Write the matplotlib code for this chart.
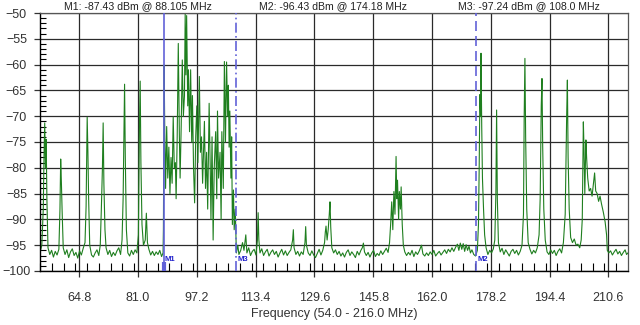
import matplotlib
matplotlib.use("Agg")
import matplotlib.pyplot as plt
import numpy as np

plt.rcParams['font.family'] = ['Liberation Sans', 'DejaVu Sans']

# spectrum trace, split by band (MHz, dBm)
low_f = [54.0, 54.5, 54.9, 55.1, 55.3, 55.5, 55.7, 55.9, 56.2, 56.7, 57.2, 57.7, 58.2, 58.7,
         59.2, 59.5, 59.7, 59.9, 60.1, 60.4, 60.9, 61.4, 61.9, 62.4, 62.9, 63.4, 63.9, 64.4,
         64.9, 65.4, 65.9, 66.4, 66.7, 66.9, 67.0, 67.2, 67.4, 67.7, 68.2, 68.7, 69.2, 69.7,
         70.2, 70.6, 70.9, 71.2, 71.4, 71.6, 71.9, 72.2, 72.7, 73.2, 73.7, 74.2, 74.7, 75.2,
         75.7, 76.2, 76.6, 76.9, 77.1, 77.3, 77.5, 77.8, 78.2, 78.7, 79.2, 79.7, 80.2, 80.7,
         81.1, 81.4, 81.6, 81.8, 82.1, 82.5, 83.0, 83.3, 83.6, 84.0, 84.5, 85.0, 85.5, 86.0,
         86.5, 87.0, 87.5, 87.9]
low_db = [-96.5, -95.0, -88.0, -78.0, -71.3, -80.0, -74.5, -86.0, -95.5, -96.8, -96.0, -97.3, -96.2, -96.9,
          -95.8, -88.0, -78.3, -83.0, -88.5, -95.5, -96.8, -95.9, -97.4, -96.3, -95.7, -97.0, -96.4, -97.5,
          -96.1, -96.9, -95.6, -94.5, -87.5, -75.0, -70.2, -77.0, -86.0, -95.0, -96.9, -97.3, -96.5, -95.9,
          -97.0, -95.0, -88.0, -80.0, -71.3, -83.0, -92.0, -95.5, -96.8, -96.0, -97.2, -96.4, -97.0, -96.1,
          -95.5, -96.8, -94.0, -86.0, -75.0, -63.8, -78.0, -92.0, -96.5, -97.1, -96.0, -96.8, -95.9, -96.5,
          -93.0, -72.0, -63.2, -79.0, -91.0, -95.0, -94.0, -88.8, -94.5, -95.8, -96.9, -96.2, -97.0, -96.3,
          -96.8, -96.0, -97.2, -96.5]

fm_f = [88.0, 88.2, 88.4, 88.6, 88.9, 89.2, 89.5, 89.8, 90.1, 90.4, 90.7, 91.0, 91.3, 91.5,
        91.8, 92.1, 92.4, 92.6, 92.9, 93.2, 93.5, 93.8, 94.0, 94.2, 94.4, 94.7, 94.9, 95.2,
        95.5, 95.8, 96.0, 96.3, 96.6, 96.9, 97.2, 97.5, 97.9, 98.2, 98.5, 98.8, 99.1, 99.3,
        99.6, 99.9, 100.2, 100.6, 100.9, 101.1, 101.4, 101.7, 102.0, 102.4, 102.7, 102.9, 103.2, 103.6,
        103.9, 104.1, 104.5, 104.8, 105.1, 105.4, 105.7, 105.9, 106.1, 106.3, 106.6, 106.8, 107.0, 107.3,
        107.5, 107.8]
fm_db = [-92.0, -60.1, -75.0, -84.0, -72.0, -82.0, -76.0, -85.0, -78.0, -83.0, -70.1, -80.0, -79.0, -86.0,
         -74.0, -55.9, -74.0, -82.0, -72.0, -59.1, -70.0, -66.0, -50.2, -62.0, -50.5, -68.0, -61.0, -73.0,
         -61.0, -75.0, -66.0, -80.0, -86.8, -74.0, -68.0, -79.0, -62.3, -77.0, -74.0, -83.0, -76.0, -71.0,
         -84.0, -77.0, -88.0, -67.5, -80.0, -90.0, -74.0, -94.0, -80.0, -73.0, -86.0, -69.0, -82.0, -77.0,
         -90.0, -73.0, -84.0, -59.4, -75.0, -59.5, -70.0, -64.0, -76.0, -69.0, -82.0, -74.0, -91.0, -84.3,
         -92.0, -88.0]

mid_f = [108.1, 108.5, 108.8, 109.3, 109.8, 110.2, 110.7, 111.0, 111.5, 112.0, 112.5, 113.0, 113.5, 113.9,
         114.1, 114.3, 114.6, 115.1, 115.6, 116.1, 116.6, 117.1, 117.6, 118.1, 118.6, 119.1, 119.6, 120.1,
         120.6, 121.1, 121.6, 122.1, 122.6, 123.1, 123.6, 123.8, 124.0, 124.5, 125.0, 125.5, 126.0, 126.5,
         127.0, 127.2, 127.4, 127.9, 128.4, 128.9, 129.4, 129.9, 130.4, 130.9, 131.4, 131.9, 132.4, 132.6,
         132.8, 133.1, 133.4, 133.7, 133.9, 134.1, 134.4, 134.9, 135.4, 135.9, 136.4, 136.9, 137.4, 137.9,
         138.4, 138.9, 139.4, 139.9, 140.4, 140.9, 141.4, 141.9, 142.4, 142.8, 143.1, 143.4, 143.9, 144.4,
         144.9, 145.4, 145.9, 146.4, 146.9, 147.4, 147.9, 148.4, 148.9, 149.4, 149.9, 150.3, 150.6, 150.9,
         151.2, 151.5, 151.8, 152.1, 152.3, 152.5, 152.8, 153.0, 153.3, 153.5, 153.8, 154.1, 154.5, 155.0,
         155.5, 156.0, 156.5, 157.0, 157.5, 158.0, 158.5, 159.1, 159.5, 160.0, 160.5, 161.0, 161.5, 162.0,
         162.5, 163.0, 163.5, 164.0, 164.5, 165.0, 165.5, 166.0, 166.5, 167.0, 167.5, 168.0, 168.5, 169.0,
         169.4, 169.8, 170.2, 170.6, 171.0, 171.4, 171.8, 172.2, 172.6, 173.0, 173.5, 174.0]
mid_db = [-96.5, -95.0, -96.8, -96.0, -94.5, -96.0, -93.0, -96.5, -95.5, -97.0, -96.2, -95.8, -96.9, -94.0,
          -88.7, -94.0, -96.5, -95.7, -97.0, -96.3, -95.8, -97.1, -96.4, -95.9, -96.8, -96.2, -97.3, -96.5,
          -95.8, -96.9, -96.1, -97.0, -96.4, -95.9, -94.0, -92.0, -95.5, -96.8, -96.2, -97.1, -96.3, -96.8,
          -94.5, -91.4, -95.0, -96.5, -97.0, -96.1, -96.9, -97.4, -96.6, -95.8, -96.9, -96.0, -94.5, -92.5,
          -91.3, -94.0, -92.0, -89.0, -86.6, -91.5, -95.5, -96.5, -95.9, -96.8, -96.2, -97.1, -96.5, -97.3,
          -96.4, -95.9, -97.0, -96.3, -96.8, -97.4, -96.2, -96.9, -96.0, -95.5, -94.6, -96.3, -97.0, -96.4,
          -97.3, -96.5, -96.0, -97.2, -96.6, -97.0, -96.1, -96.8, -96.2, -95.6, -96.4, -94.5, -91.0, -86.6,
          -92.0, -84.6, -89.0, -77.8, -86.0, -82.4, -90.0, -84.6, -88.0, -83.7, -91.0, -95.0, -96.3, -97.0,
          -96.4, -96.9, -96.0, -97.2, -96.3, -96.8, -96.1, -95.0, -96.7, -97.1, -96.5, -97.0, -96.3, -96.8,
          -96.0, -97.1, -96.6, -96.2, -96.9, -96.4, -95.9, -96.6, -95.8, -96.3, -95.5, -96.2, -95.4, -94.8,
          -96.0, -94.6, -95.8, -94.7, -96.2, -94.9, -96.0, -95.2, -96.5, -95.9, -96.8, -97.1]

high_f = [174.5, 174.8, 175.0, 175.2, 175.4, 175.5, 175.7, 175.9, 176.2, 176.5, 176.9, 177.4, 177.9, 178.4,
          178.9, 179.3, 179.6, 179.8, 180.0, 180.3, 180.8, 181.3, 181.8, 182.3, 182.8, 183.3, 183.8, 184.3,
          184.8, 185.3, 185.8, 186.3, 186.8, 187.2, 187.4, 187.6, 187.8, 188.1, 188.5, 189.0, 189.5, 190.0,
          190.5, 191.0, 191.5, 191.8, 192.1, 192.3, 192.5, 192.8, 193.2, 193.7, 194.2, 194.7, 195.2, 195.7,
          196.2, 196.7, 197.2, 197.7, 198.2, 198.7, 199.1, 199.3, 199.5, 199.8, 200.2, 200.7, 201.2, 201.7,
          202.2, 202.7, 203.1, 203.4, 203.7, 203.9, 204.1, 204.4, 204.6, 204.9, 205.3, 205.7, 206.1, 206.5,
          206.8, 207.1, 207.5, 207.9, 208.3, 208.7, 209.2, 209.7, 210.1, 210.3, 210.7, 211.2, 211.7, 212.2,
          212.7, 213.2, 213.7, 214.2, 214.7, 215.2, 215.6, 216.0]
high_db = [-96.0, -91.0, -80.0, -65.8, -70.0, -57.8, -72.0, -82.0, -88.0, -93.0, -95.5, -96.8, -96.0, -96.5,
           -95.7, -94.0, -85.0, -68.8, -86.0, -94.5, -96.3, -95.6, -96.8, -95.9, -96.5, -97.1, -96.2, -95.8,
           -96.6, -96.0, -96.9, -96.2, -95.0, -89.0, -70.0, -58.8, -74.0, -88.0, -94.5, -95.8, -96.7, -96.0,
           -96.5, -95.5, -93.0, -86.0, -68.0, -62.7, -76.0, -88.0, -94.0, -96.3, -96.8, -95.9, -96.6, -96.0,
           -97.0, -96.2, -95.7, -96.5, -94.5, -89.0, -70.0, -63.0, -78.0, -88.0, -93.5, -94.5, -93.8, -95.0,
           -94.8, -95.5, -94.0, -90.0, -71.1, -77.0, -85.0, -74.6, -78.0, -82.0, -84.5, -84.0, -85.5, -83.0,
           -81.0, -84.5, -85.0, -86.5, -85.5, -87.0, -88.6, -90.5, -93.0, -96.0, -96.5, -96.1, -96.9, -96.3,
           -95.8, -96.7, -96.2, -97.0, -96.4, -95.9, -96.8, -96.5]

# markers: name, frequency, line style
marker_names = ["M1", "M2", "M3"]
marker_freqs = [88.105, 174.18, 108.0]
marker_styles = ["-", (0, (6, 3)), (0, (6, 2, 1, 2))]
readouts = ["M1: -87.43 dBm @ 88.105 MHz", "M2: -96.43 dBm @ 174.18 MHz", "M3: -97.24 dBm @ 108.0 MHz"]

freq = np.array(low_f + fm_f + mid_f + high_f)
level = np.array(low_db + fm_db + mid_db + high_db)

fig = plt.figure(figsize=(6.4, 3.25), dpi=100)
ax = fig.add_axes([0.0625, 0.1662, 0.91875, 0.7938])

ax.plot(freq, level, color='#1f7f1f', lw=0.8, zorder=2)

grid_c = '#2a2a2a'
ax.set_xlim(54.0, 216.0)
ax.set_ylim(-100, -50)
major_x = np.arange(64.8, 216.0, 16.2)
ax.set_xticks(major_x)
ax.set_xticklabels(["%.1f" % v for v in major_x])
ax.set_xticks(np.arange(54.0, 216.0, 3.24), minor=True)
ax.set_yticks(np.arange(-100, -49, 5))
ax.set_yticks(np.arange(-100, -49, 1), minor=True)
ax.grid(True, which='major', color=grid_c, lw=0.9, zorder=1)

ax.tick_params(axis='x', which='major', direction='out', length=4, width=0.9,
               labelsize=9, colors='#333333', pad=11)
ax.tick_params(axis='x', which='minor', direction='in', length=6, width=0.8, color='black')
ax.tick_params(axis='y', which='major', direction='out', length=4, width=0.9,
               labelsize=9, colors='#333333', pad=13)
ax.tick_params(axis='y', which='minor', direction='in', length=4, width=0.8, color='black')
for lbl in ax.get_yticklabels():
    lbl.set_horizontalalignment('center')

for side in ['left', 'bottom']:
    ax.spines[side].set_color('black')
    ax.spines[side].set_linewidth(1.0)
for side in ['top', 'right']:
    ax.spines[side].set_color('#555555')
    ax.spines[side].set_linewidth(0.9)

ax.set_xlabel("Frequency (54.0 - 216.0 MHz)", fontsize=9, color='#333333', labelpad=3)

# marker lines and their tags
for name, f, ls in zip(marker_names, marker_freqs, marker_styles):
    ax.axvline(f, color='#6262d8', lw=1.2, ls=ls, zorder=3)
    ax.text(f + 0.3, -97.8, name, color='#2222cc', fontsize=5.5, fontweight='bold',
            va='center', ha='left', zorder=4)
ax.plot([marker_freqs[0], marker_freqs[0]], [-98.3, -100], color='#6262d8', lw=3, zorder=3,
        solid_capstyle='butt')

# readout line across the top
for txt, xc in zip(readouts, [137.5, 333, 529]):
    fig.text(xc / 640, 1 - 6.5 / 325, txt, fontsize=7.6, color='#222222', ha='center', va='center')

fig.savefig("out.png", dpi=100)
